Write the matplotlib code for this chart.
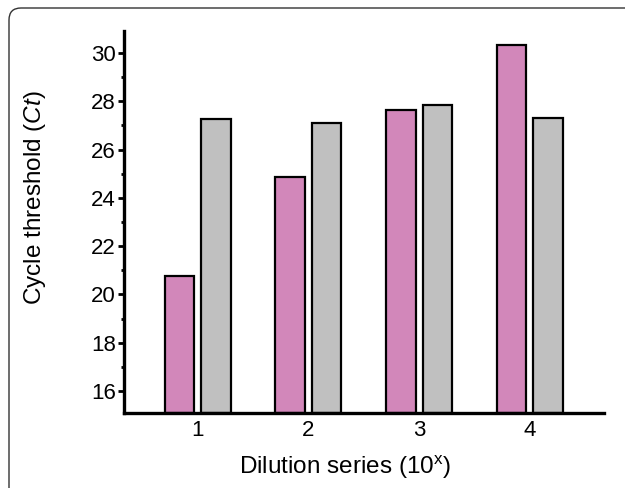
import matplotlib
matplotlib.use("Agg")
import matplotlib.pyplot as plt
import numpy as np
from matplotlib.patches import FancyBboxPatch
from matplotlib.transforms import IdentityTransform
from matplotlib.ticker import MultipleLocator

plt.rcParams['font.family'] = ['Liberation Sans', 'DejaVu Sans']
plt.rcParams['mathtext.fontset'] = 'custom'
plt.rcParams['mathtext.rm'] = 'Liberation Sans'
plt.rcParams['mathtext.it'] = 'Liberation Sans:italic'

categories = ['1', '2', '3', '4']
series_a = [20.75, 24.85, 27.65, 30.35]
series_b = [27.25, 27.1, 27.85, 27.3]

fig = plt.figure(figsize=(6.25, 4.88), dpi=100)
ax = fig.add_axes([0.198, 0.154, 0.768, 0.782])

x = np.arange(1, len(categories) + 1)
w = 0.266
off = 0.165
base = 15.1
ax.bar(x - off, np.array(series_a) - base, w, bottom=base, color='#D287BA',
       edgecolor='black', linewidth=1.6, zorder=2)
ax.bar(x + off, np.array(series_b) - base, w, bottom=base, color='#C0C0C0',
       edgecolor='black', linewidth=1.6, zorder=2)

ax.set_xlim(0.33, 4.67)
ax.set_ylim(15.1, 30.9)
ax.set_xticks(x)
ax.set_xticklabels(categories)
ax.yaxis.set_major_locator(MultipleLocator(2))
ax.yaxis.set_minor_locator(MultipleLocator(1))
ax.set_yticks(np.arange(16, 31, 2))

for s in ['top', 'right']:
    ax.spines[s].set_visible(False)
for s in ['left', 'bottom']:
    ax.spines[s].set_linewidth(2.4)
    ax.spines[s].set_zorder(3)

ax.tick_params(axis='y', which='major', direction='out', length=4.5, width=2, labelsize=16, pad=1)
ax.tick_params(axis='y', which='minor', direction='out', length=2.5, width=2)
ax.tick_params(axis='x', which='both', length=0, labelsize=16, pad=5)

ax.set_ylabel(r'Cycle threshold ($\mathit{Ct}$)', fontsize=17.5)
ax.set_xlabel(r'Dilution series (10$^{\mathrm{x}}$)', fontsize=17.5)
ax.yaxis.set_label_coords(-0.158, 0.565)
ax.xaxis.set_label_coords(0.46, -0.108)

border = FancyBboxPatch((9, -30), 660, 488 - 8 + 30,
                        boxstyle='round,pad=0,rounding_size=12',
                        transform=IdentityTransform(), fill=False,
                        edgecolor='#333333', linewidth=1.0, clip_on=False)
fig.patches.append(border)

fig.savefig('out.png', dpi=100)
